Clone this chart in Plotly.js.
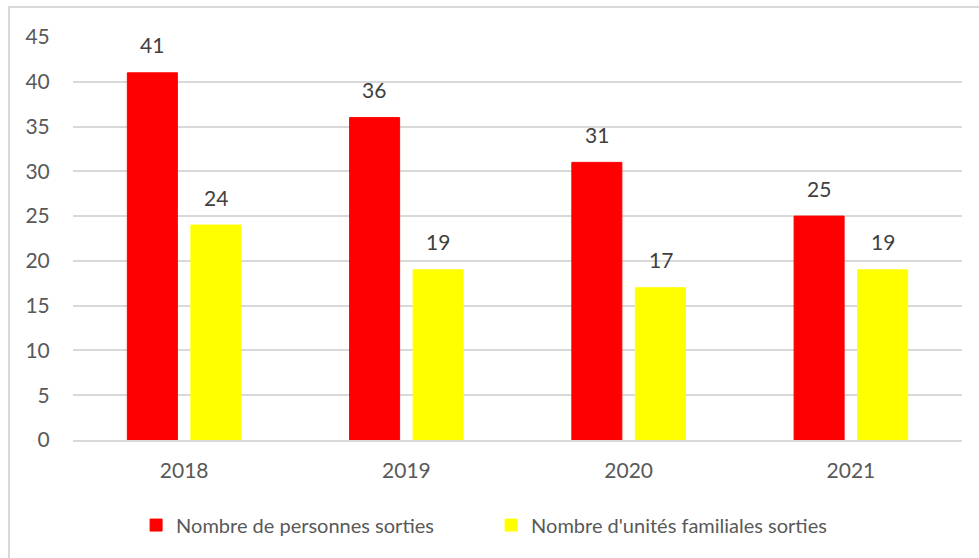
<!DOCTYPE html>
<html>
<head>
<meta charset="utf-8">
<script src="https://cdn.plot.ly/plotly-3.0.1.min.js"></script>
<style>
body { margin: 0; background: #fff; }
#graph { width: 979px; height: 558px; }
/* frame of the chart area, only left and top edges are visible in the picture */
#frame { position: absolute; left: 8px; top: 6px; width: 979px; height: 560px;
  border-left: 2px solid #d9d9d9; border-top: 2px solid #d9d9d9; pointer-events: none; }
</style>
</head>
<body>
<div id="graph"></div>
<div id="frame"></div>
<script>
var years = ['2018', '2019', '2020', '2021'];
var personnes = [41, 36, 31, 25]; /*Nombre de personnes sorties*/
var unites = [24, 19, 17, 19]; /*Nombre d'unités familiales sorties*/
var yTicks = [0, 5, 10, 15, 20, 25, 30, 35, 40, 45];

var fontFamily = 'Lato, "Open Sans", sans-serif';
var barOffset = 32; /*half the distance between the centres of the two bars of a year, in px*/

function barTrace(name, values, color) {
    return {
        type: 'bar',
        name: name,
        x: years,
        y: values,
        marker: { color: color, line: { color: color, width: 1 } },
        hoverinfo: 'x+y'
    };
}

var data = [
    barTrace('Nombre de personnes sorties', personnes, '#ff0000'),
    barTrace("Nombre d'unités familiales sorties", unites, '#ffff00')
];

/*value labels above the bars (x is the category index on a category axis)*/
var annotations = [];
[personnes, unites].forEach(function (values, s) {
    for (var i = 0; i < years.length; i += 1) {
        annotations.push({
            x: i,
            y: values[i],
            xref: 'x',
            yref: 'y',
            text: String(values[i]),
            showarrow: false,
            xanchor: 'center',
            yanchor: 'middle',
            xshift: s === 0 ? -barOffset : barOffset,
            yshift: 28,
            font: { family: fontFamily, size: 21, color: '#404040' }
        });
    }
});

var layout = {
    width: 979,
    height: 558,
    paper_bgcolor: '#ffffff',
    plot_bgcolor: '#ffffff',
    margin: { l: 73, r: 17, t: 37, b: 118 },
    barmode: 'group',
    bargap: 0.428,
    bargroupgap: 0.213,
    font: { family: fontFamily, color: '#595959' },
    annotations: annotations,
    xaxis: {
        type: 'category',
        showgrid: false,
        showline: true,
        linecolor: '#d9d9d9',
        linewidth: 1.5,
        ticks: 'outside',
        ticklen: 11,
        tickcolor: 'rgba(0,0,0,0)',
        tickfont: { family: fontFamily, size: 21, color: '#595959' }
    },
    yaxis: {
        range: [0, 45],
        tickvals: yTicks,
        showgrid: true,
        gridcolor: '#d9d9d9',
        gridwidth: 1.5,
        zeroline: false,
        showline: false,
        ticks: 'outside',
        ticklen: 18,
        tickcolor: 'rgba(0,0,0,0)',
        tickfont: { family: fontFamily, size: 21, color: '#595959' }
    },
    showlegend: true,
    legend: {
        orientation: 'h',
        xref: 'container',
        yref: 'container',
        x: 0.139,
        xanchor: 'left',
        y: 0.059,
        yanchor: 'middle',
        font: { family: fontFamily, size: 20, color: '#595959' },
        entrywidth: 310,
        itemwidth: 30,
        traceorder: 'normal'
    }
};

Plotly.newPlot('graph', data, layout, { displayModeBar: false });
</script>
</body>
</html>
